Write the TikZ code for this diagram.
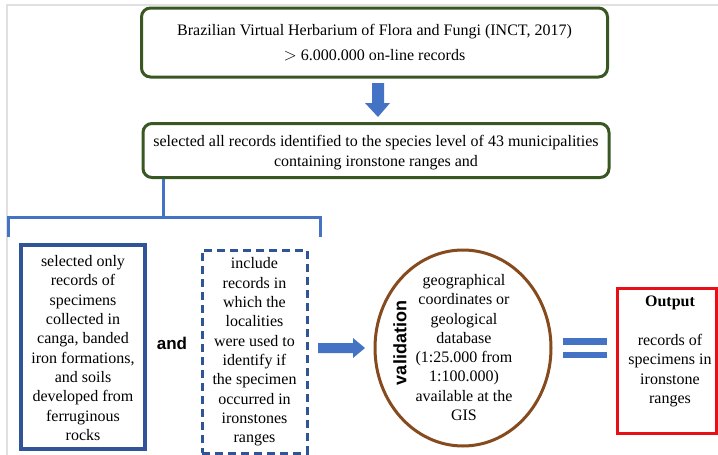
\documentclass[tikz,border=0pt]{standalone}
\usepackage{fontspec}
\setmainfont{Liberation Serif}
\newfontfamily\sansfont{Liberation Sans}
\usetikzlibrary{shapes.geometric}
\definecolor{herbgreen}{RGB}{56,87,35}
\definecolor{arrowblue}{RGB}{68,114,196}
\definecolor{boxblue}{RGB}{47,85,151}
\definecolor{ovalbrown}{RGB}{133,74,30}
\definecolor{outred}{RGB}{230,16,22}

\begin{document}
\begin{tikzpicture}[x=1pt, y=-1pt,
  txt/.style={align=center, font=\fontsize{16}{19.3}\selectfont, inner sep=0pt},
  greenbox/.style={draw=herbgreen, line width=3pt, rounded corners=9pt, minimum width=466pt},
  bluebox/.style={draw=boxblue, line width=3pt}]
  \useasboundingbox (0,0) rectangle (718,455);
  \draw[black!12, line width=1.5pt] (7,455) -- (7,5) -- (718,5);

  \node[greenbox, minimum height=69pt] (herb) at (374.5,42.5) {};
  \node[txt, font=\fontsize{16}{25}\selectfont] (herbtxt) at (374.5,42.5)
    {Brazilian Virtual Herbarium of Flora and Fungi (INCT, 2017)\\ $>$ 6.000.000 on-line records};
  \node[greenbox, minimum height=54pt] (sel) at (376,150.5) {};
  \node[txt] (seltxt) at (376,152.5)
    {selected all records identified to the species level of 43 municipalities\\ containing ironstone ranges and};

  % block arrow down
  \fill[arrowblue] (372,83) -- (384,83) -- (384,103) -- (390,103) -- (378,117) -- (365,103) -- (372,103) -- cycle;

  % bracket
  \coordinate (split) at (163,217);
  \draw[arrowblue, line width=3pt] (sel.south -| split) -- (split);
  \draw[arrowblue, line width=3pt] (8,237) -- (8,217) -- (320,217) -- (320,237);

  \node[bluebox, line width=3.5pt, minimum width=124pt, minimum height=204pt] (canga) at (83,347) {};
  \node[txt] (cangatxt) at (83,348) {selected only\\ records of\\ specimens\\ collected in\\ canga, banded\\ iron formations,\\ and soils\\ developed from\\ ferruginous\\ rocks};

  \node[font=\sansfont\bfseries\fontsize{17}{20}\selectfont, inner sep=0pt] (and) at (172,343) {and};

  \node[bluebox, dash pattern=on 8pt off 5pt, minimum width=105pt, minimum height=203pt] (local) at (254.5,351.5) {};
  \node[txt] (localtxt) at (254.5,352) {include\\ records in\\ which the\\ localities\\ were used to\\ identify if\\ the specimen\\ occurred in\\ ironstones\\ ranges};

  % block arrow right
  \fill[arrowblue] (318,343) -- (353,343) -- (353,338) -- (365,348) -- (353,358) -- (353,353) -- (318,353) -- cycle;

  \node[ellipse, draw=ovalbrown, line width=3pt, minimum width=176pt, minimum height=196pt] (valid) at (463,348) {};
  \node[txt] (validtxt) at (464,347.5) {geographical\\ coordinates or\\ geological\\ database\\ (1:25.000 from\\ 1:100.000)\\ available at the\\ GIS};
  \node[font=\sansfont\bfseries\fontsize{18}{20}\selectfont, inner sep=0pt, rotate=90] (vlabel) at (400,343) {validation};

  % equals sign
  \fill[arrowblue] (563,338) rectangle (607,345);
  \fill[arrowblue] (563,352) rectangle (607,358);

  \node[draw=outred, line width=3pt, minimum width=99pt, minimum height=145pt] (out) at (666.5,360.5) {};
  \node[txt] (outtxt) at (670,351.5) {\textbf{Output}\\ \\ records of\\ specimens in\\ ironstone\\ ranges};
\end{tikzpicture}
\end{document}
